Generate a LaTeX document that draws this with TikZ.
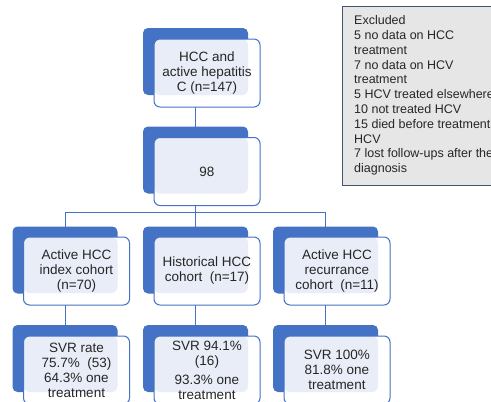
\documentclass[tikz,border=0pt]{standalone}
\usepackage{fontspec}
\setmainfont{Liberation Sans}
\usetikzlibrary{calc}
\pgfdeclarelayer{bg}
\pgfsetlayers{bg,main}
\definecolor{accent}{HTML}{4472C4}
\definecolor{lightfill}{HTML}{E9EDF7}
\definecolor{exfill}{HTML}{E7E6E6}
\definecolor{exline}{HTML}{44546A}
\definecolor{txt}{HTML}{262626}
\tikzset{
  backbox/.style={fill=accent, draw=none, rounded corners=5pt, minimum width=105pt, minimum height=67pt, inner sep=0pt, outer sep=0pt},
  frontbox/.style={fill=white, draw=accent, line width=1pt, rounded corners=6pt, minimum width=106pt, minimum height=68pt, inner sep=0pt, outer sep=0pt,
    align=center, text=txt, font=\fontsize{13.5}{15}\selectfont,
    path picture={\fill[lightfill] (path picture bounding box.north west) rectangle ($(path picture bounding box.south east)+(-12pt,12pt)$);}},
  link/.style={draw=accent, line width=1pt},
  exbox/.style={fill=exfill, draw=exline, line width=1pt, inner sep=0pt, outer sep=0pt},
  extext/.style={anchor=north west, inner sep=0pt, align=left, text=txt, font=\fontsize{12.5}{14.8}\selectfont}
}
\begin{document}
\begin{tikzpicture}[x=1pt,y=-1pt]
\useasboundingbox (0,0) rectangle (491,402);
% back blocks
\node[backbox] (tb) at (195.5,61.5) {};
\node[backbox] (mb) at (195.5,160) {};
\node[backbox] (c1b) at (65,260) {};
\node[backbox] (c2b) at (195.5,260) {};
\node[backbox] (c3b) at (325.5,260) {};
\node[backbox] (s1b) at (65,358.5) {};
\node[backbox] (s2b) at (195.5,358.5) {};
\node[backbox] (s3b) at (325.5,358.5) {};
% front blocks
\node[frontbox] (t) at (207,73) {HCC and\\active hepatitis\\C (n=147)};
\node[frontbox] (m) at (207,171.5) {98};
\node[frontbox] (c1) at (76.5,271) {Active HCC\\index cohort\\(n=70)};
\node[frontbox] (c2) at (207,271) {Historical HCC\\cohort~~(n=17)};
\node[frontbox] (c3) at (337,271) {Active HCC\\recurrance\\cohort~~(n=11)};
\node[frontbox] (s1) at (76.5,370) {SVR rate\\75.7\%~~(53)\\64.3\% one\\treatment};
\node[frontbox] (s2) at (207,370) {SVR 94.1\%\\(16)\\[4pt]93.3\% one\\treatment};
\node[frontbox] (s3) at (337,370) {SVR 100\%\\81.8\% one\\treatment};
% connectors
\begin{pgfonlayer}{bg}
\draw[link] (tb.south) -- (mb.north);
\draw[link] (mb.south) -- (c2b.north);
\draw[link] (c1b.north) -- ++(0,-14) -| (c3b.north);
\draw[link] (c1b.south) -- (s1b.north);
\draw[link] (c2b.south) -- (s2b.north);
\draw[link] (c3b.south) -- (s3b.north);
\end{pgfonlayer}
% excluded box
\node[exbox, minimum width=153pt, minimum height=179pt, anchor=north west] (ex) at (342,6) {};
\node[extext] (ext) at (354,15.5) {Excluded\\5 no data on HCC\\treatment\\7 no data on HCV\\treatment\\5 HCV treated elsewhere\\10 not treated HCV\\15 died before treatment\\HCV\\7 lost follow-ups after the\\diagnosis};
\end{tikzpicture}
\end{document}
